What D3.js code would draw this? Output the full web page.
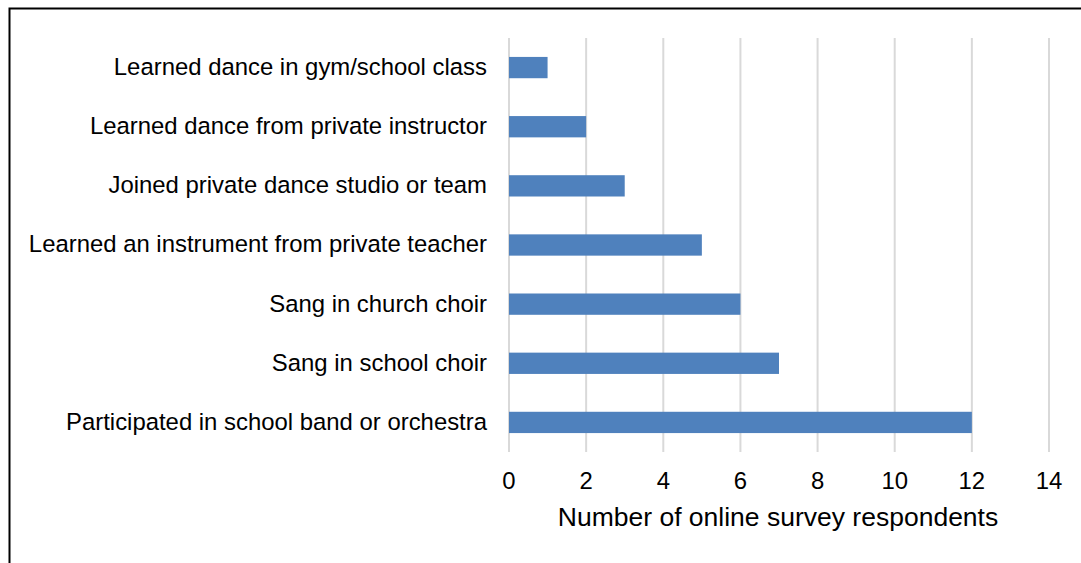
<!DOCTYPE html>
<html><head><meta charset="utf-8">
<script src="https://cdn.jsdelivr.net/npm/d3@7"></script>
<style>body{margin:0;background:#fff}svg{display:block}</style>
</head><body>
<svg id="c" width="1081" height="563"></svg>
<script>
const categories = ["Learned dance in gym/school class","Learned dance from private instructor","Joined private dance studio or team","Learned an instrument from private teacher","Sang in church choir","Sang in school choir","Participated in school band or orchestra"];
const values = [1,2,3,5,6,7,12];
const tickValues = [0,2,4,6,8,10,12,14];
const axisTitle = "Number of online survey respondents";

const svg = d3.select("#c");
const font = "Liberation Sans, Arial, sans-serif";
// frame
svg.append("rect").attr("x",9.5).attr("y",8.5).attr("width",1100).attr("height",600)
  .attr("fill","none").attr("stroke","#000").attr("stroke-width",2);

const x = d3.scaleLinear().domain([0,14]).range([509,1049]);
const y = d3.scaleBand().domain(categories).range([38,452]).paddingInner(0.64).paddingOuter(0.32);

svg.append("g").selectAll("line").data(tickValues).join("line")
  .attr("x1",d=>x(d)).attr("x2",d=>x(d)).attr("y1",38).attr("y2",452)
  .attr("stroke","#d9d9d9").attr("stroke-width",2);

svg.append("g").selectAll("rect").data(values).join("rect")
  .attr("x",x(0)).attr("y",(d,i)=>y(categories[i]))
  .attr("width",d=>x(d)-x(0)).attr("height",y.bandwidth())
  .attr("fill","#4f81bd");

svg.append("g").selectAll("text").data(categories).join("text")
  .attr("x",487).attr("y",d=>y(d)+y.bandwidth()/2 - 1).attr("dy","0.35em")
  .attr("text-anchor","end").attr("font-family",font).attr("font-size",23.9).attr("fill","#000")
  .text(d=>d);

svg.append("g").selectAll("text").data(tickValues).join("text")
  .attr("x",d=>x(d)).attr("y",481).attr("dy","0.35em")
  .attr("text-anchor","middle").attr("font-family",font).attr("font-size",23.9).attr("fill","#000")
  .text(d=>d);

svg.append("text").attr("x",778).attr("y",517).attr("dy","0.35em")
  .attr("text-anchor","middle").attr("font-family",font).attr("font-size",26.5).attr("fill","#000")
  .text(axisTitle);
</script>
</body></html>
